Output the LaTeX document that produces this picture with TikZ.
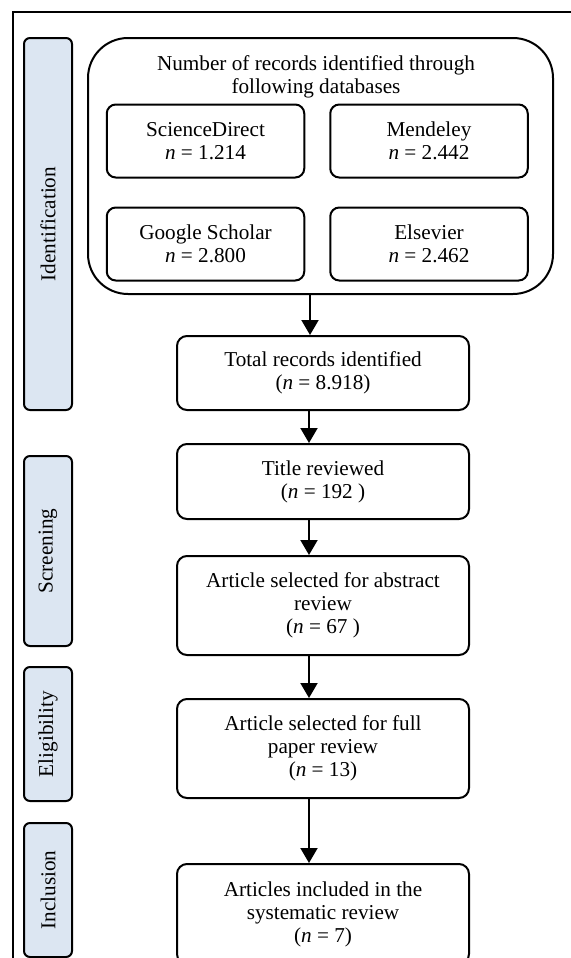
\documentclass[tikz,border=0pt]{standalone}
\usepackage{fontspec}
\setmainfont{Liberation Serif}
\usetikzlibrary{arrows.meta, positioning}
\definecolor{phaseblue}{HTML}{DCE6F2}

\begin{document}
\begin{tikzpicture}[
        x=1pt, y=1pt,
        node distance=16pt and 12pt, % controls spacing between boxes
        every node/.style={draw, line width=1pt, align=center, inner sep=2pt,
          font=\fontsize{10.6pt}{11.5pt}\selectfont},
        box/.style={rounded corners=5pt, minimum width=146pt, minimum height=37pt},
        dbbox/.style={rounded corners=4.5pt, minimum width=98.75pt, minimum height=36.5pt},
        phase/.style={fill=phaseblue, rounded corners=3pt, rotate=90, minimum height=24pt},
        ->, % arrow style
        >={Triangle[length=7.5pt, width=8.5pt]}, % arrowhead style
        line width=1pt
      ]
      \useasboundingbox (0,0) rectangle (285.5,-479);

      % Frame
      \draw[-, line width=0.8pt] (6.5,-479) -- (6.5,-6) -- (285.5,-6);

      % Phases
      \node (P1) [phase, minimum width=186pt] at (24,-112) {Identification};
      \node (P2) [phase, minimum width=95pt] at (24,-275.5) {Screening};
      \node (P3) [phase, minimum width=67pt] at (24,-367) {Eligibility};
      \node (P4) [phase, minimum width=67pt] at (24,-445) {Inclusion};

      % Databases
      \node (G) [rounded corners=20pt, minimum width=232.5pt, minimum height=128pt] at (160.25,-83) {};
      \node (T) [draw=none] at (158,-38.5) {Number of records identified through\\following databases};
      \node (D1) [dbbox] at (102.75,-70.5) {ScienceDirect\\\textit{n} = 1.214};
      \node (D2) [dbbox, right=of D1] {Mendeley\\\textit{n} = 2.442};
      \node (D3) [dbbox, below=14pt of D1] {Google Scholar\\\textit{n} = 2.800};
      \node (D4) [dbbox, right=of D3] {Elsevier\\\textit{n} = 2.462};

      % Nodes
      \node (A) [box] at (161.5,-186.5) {Total records identified\\(\textit{n} = 8.918)};
      \node (B) [box, minimum height=37.5pt, below=of A] {Title reviewed\\(\textit{n} = 192 )};
      \node (C) [box, minimum height=49.5pt, below=17.5pt of B] {Article selected for abstract\\review\\(\textit{n} = 67 )};
      \node (D) [box, minimum height=49.5pt, below=21pt of C] {Article selected for full\\paper review\\(\textit{n} = 13)};
      \node (E) [box, minimum height=50pt, below=32pt of D] {Articles included in the\\systematic review\\(\textit{n} = 7)};

      % Arrows
      \draw ([xshift=-6.5pt]A.north |- G.south) -- ([xshift=-6.5pt]A.north);
      \draw ([xshift=-7pt]A.south) -- ([xshift=-7pt]B.north);
      \draw ([xshift=-7pt]B.south) -- ([xshift=-7pt]C.north);
      \draw ([xshift=-7pt]C.south) -- ([xshift=-7pt]D.north);
      \draw ([xshift=-7pt]D.south) -- ([xshift=-7pt]E.north);

    \end{tikzpicture}
\end{document}
